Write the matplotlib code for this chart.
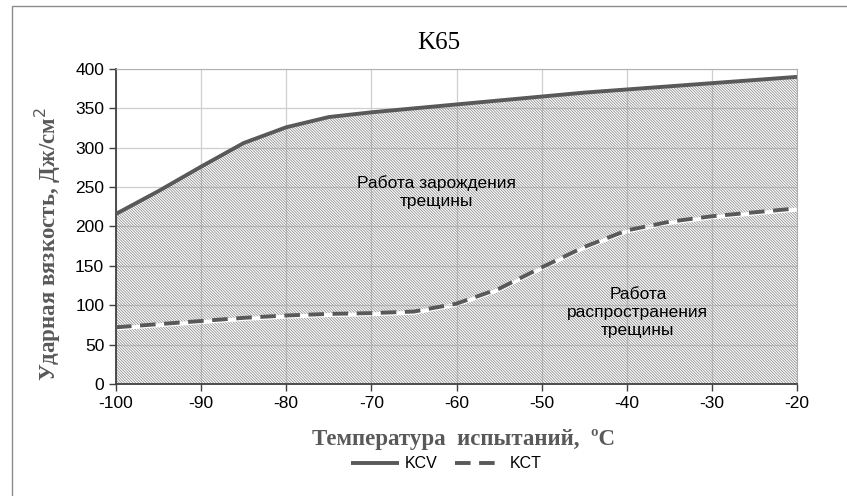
import matplotlib
matplotlib.use("Agg")
import matplotlib.pyplot as plt
import numpy as np
from matplotlib.patches import Rectangle

plt.rcParams['hatch.color'] = '#8a8a8a'
plt.rcParams['hatch.linewidth'] = 0.55
plt.rcParams['axes.unicode_minus'] = False

temps = [-100, -95, -90, -85, -80, -75, -70, -65, -60, -55, -50, -45, -40, -35, -30, -25, -20]
kcv = [216, 245, 276, 306, 326, 339, 345, 350, 355, 360, 365, 370, 374, 378, 382, 386, 390]
kct = [72, 76, 80, 84, 87, 89, 90, 92, 102, 121, 148, 174, 195, 206, 213, 218, 223]

title = "K65"
xlabel = "Температура  испытаний,  ºC"
ylabel = "Ударная вязкость, Дж/см$^2$"
note_upper = "Работа зарождения\nтрещины"
note_lower = "Работа\nраспространения\nтрещины"

fig = plt.figure(figsize=(8.47, 4.96), dpi=100)
ax = fig.add_axes([116/847, 1-384/496, (797-116)/847, (384-69)/496])

line_col = '#595959'
x = np.array(temps, dtype=float)
y1 = np.array(kcv, dtype=float)
y2 = np.array(kct, dtype=float)

# hatched regions: below KCT and between KCT and KCV
hatch = '\\' * 12
ax.fill_between(x, 0, y2 - 4, facecolor='none', edgecolor='#8a8a8a', hatch=hatch, linewidth=0, zorder=1)
ax.fill_between(x, y2 + 1, y1, facecolor='none', edgecolor='#8a8a8a', hatch=hatch, linewidth=0, zorder=1)

ax.plot(x, y1, color=line_col, lw=2.8, solid_capstyle='butt', label='KCV', zorder=3)
ax.plot(x, y2, color=line_col, lw=2.8, dashes=(4, 2.2), label='KCT', zorder=3)

ax.set_xlim(-100, -20)
ax.set_ylim(0, 400)
ax.set_xticks(range(-100, -19, 10))
ax.set_yticks(range(0, 401, 50))
ax.grid(True, color='#cfcfcf', lw=0.9, zorder=0)
ax.set_axisbelow(True)
for s in ['top', 'right']:
    ax.spines[s].set_color('#b0b0b0')
for s in ['left', 'bottom']:
    ax.spines[s].set_color('#404040')
    ax.spines[s].set_linewidth(1.3)
ax.tick_params(axis='both', direction='out', length=5, width=1, color='#404040',
               labelsize=12.5, labelcolor='black')
for lab in ax.get_xticklabels() + ax.get_yticklabels():
    lab.set_fontfamily('Liberation Sans')

ax.text(-62.3, 244, note_upper, ha='center', va='center', fontsize=12.5,
        family='Liberation Sans', linespacing=1.25, zorder=4)
ax.text(-38.7, 91, note_lower, ha='center', va='center', fontsize=12.5,
        family='Liberation Sans', linespacing=1.25, zorder=4)

fig.text(439/847, 1-43/496, title, ha='center', va='center', fontsize=18,
         family='Liberation Serif', color='black')
fig.text(463/847, 1-439/496, xlabel, ha='center', va='center', fontsize=16.5,
         family='Liberation Serif', fontweight='bold', color=line_col)
fig.text(48/847, 1-244/496, ylabel, ha='center', va='center', rotation=90,
         fontsize=16.5, family='Liberation Serif', fontweight='bold', color=line_col)

leg = fig.legend(loc='center', bbox_to_anchor=(446/847, 1-464/496), ncol=2, frameon=False,
                 prop={'family': 'Liberation Sans', 'size': 11.5}, handlelength=3.0,
                 columnspacing=1.1, handletextpad=0.4)

fig.patches.append(Rectangle((12/847, -0.05), 1.0, 1-6/496+0.05, transform=fig.transFigure,
                             fill=False, edgecolor='#8c8c8c', lw=1.0, zorder=0))

fig.savefig('out.png', dpi=100)
